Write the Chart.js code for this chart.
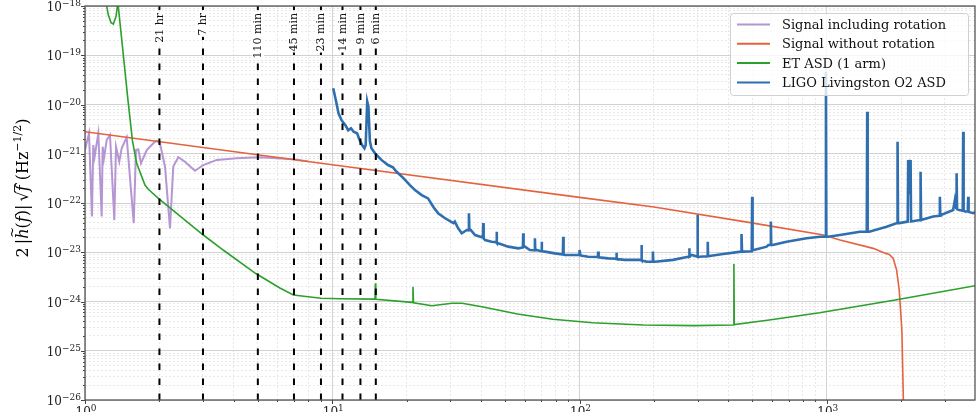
<!DOCTYPE html>
<html>
<head>
<meta charset="utf-8">
<script src="https://cdn.jsdelivr.net/npm/chart.js@4.4.1/dist/chart.umd.min.js"></script>
<style>
  html, body { margin: 0; padding: 0; background: #fff; }
  canvas { display: block; }
</style>
</head>
<body>
<canvas id="c" width="980" height="412"></canvas>
<script>
// signal with rotation (Hz, strain ASD)
const rotFreq = [1.0, 1.038, 1.067, 1.08, 1.094, 1.115, 1.132, 1.168, 1.179, 1.193, 1.224, 1.262, 1.314, 1.335, 1.376, 1.407,
  1.474, 1.574, 1.608, 1.643, 1.684, 1.777, 1.889, 1.95, 2.01, 2.107, 2.207, 2.275, 2.384, 2.537, 2.785, 3.009, 3.41, 4.1, 5.1, 6.95, 8.0];
const rotAsd = [1.19e-21, 2.6e-21, 5.3e-23, 1.5e-21, 8.7e-22, 1.63e-21, 2.6e-21, 5.3e-23, 1.39e-21, 8.1e-22, 1.9e-21, 2.4e-21, 4.5e-23, 1.39e-21, 6.9e-22, 1.29e-21,
  2.16e-21, 3.9e-23, 1.19e-21, 1.23e-21, 6.4e-22, 1.19e-21, 1.63e-21, 1.84e-21, 1.63e-21, 5.46e-22, 3.06e-23, 5.5e-22, 8.5e-22, 6.9e-22, 4.5e-22, 5.9e-22, 7.5e-22, 8.1e-22, 8.5e-22, 7.7e-22, 7.0e-22];

// signal without rotation
const noRotFreq = [1, 10, 100, 200, 490, 970, 1130, 1540, 1700, 1790, 1856, 1915, 1963, 2012, 2040, 2070];
const noRotAsd = [2.8e-21, 6.0e-22, 1.3e-22, 8.3e-23, 4.0e-23, 2.24e-23, 1.77e-23, 1.2e-23, 9.8e-24, 9.0e-24, 7.5e-24, 4.4e-24, 1.7e-24, 2.6e-25, 1.0e-26, 1.0e-28];

// Einstein Telescope, one arm
const etFreq = [1.0, 1.2, 1.224, 1.242, 1.274, 1.302, 1.335, 1.351, 1.357, 1.364, 1.492, 1.556, 1.618, 1.748, 1.803, 1.98, 3.01, 3.62,
  4.89, 6.14, 6.96, 9.0, 10.8, 14.88, 14.94, 15.0, 21.1, 21.2, 21.3, 25.3, 30.5, 33.5, 40.3, 56.1, 77.9, 113, 181, 290, 419.5, 421, 422.5,
  585, 935, 1890, 4000];
const etAsd = [1e-16, 4e-18, 1.0e-18, 6.6e-19, 4.6e-19, 4.3e-19, 6.1e-19, 9.7e-19, 1e-16, 9.7e-19, 1.23e-20, 1.82e-21, 6.4e-22, 2.32e-22, 1.9e-22, 1.24e-22, 2.24e-23, 1.11e-23,
  3.74e-24, 1.88e-24, 1.36e-24, 1.16e-24, 1.14e-24, 1.12e-24, 2.34e-24, 1.11e-24, 9.6e-25, 2.0e-24, 9.4e-25, 8.2e-25, 9.2e-25, 9.2e-25, 7.8e-25, 5.57e-25, 4.35e-25, 3.7e-25, 3.33e-25, 3.23e-25, 3.33e-25, 5.77e-24, 3.4e-25,
  4.2e-25, 5.9e-25, 1.07e-24, 2.1e-24];

// LIGO Livingston O2
const ligoFreq = [10.09, 10.4, 10.6, 10.9, 11.3, 11.6, 11.9, 12.2, 12.6, 12.9, 13.2, 13.5, 13.65, 13.85, 14.0, 14.2, 14.4, 14.9,
  15.8, 16.8, 17.6, 18.2, 19.4, 20.6, 21.6, 23.0, 24.4, 25.6, 26.8, 28.6, 30.9, 31.3, 32.3, 33.4, 35.0,
  35.55, 35.7, 35.85, 36.3, 37.8, 40.65, 40.8, 40.95, 41.5, 44.1, 46.05, 46.2, 46.35, 46.9, 51.5, 56.5,
  59.0, 59.2, 59.4, 60.1, 63.0, 65.8, 66.0, 66.2, 67.1, 70.1, 70.3, 70.5, 72.5, 79.5, 85.6, 85.9, 86.2, 87.3, 98.8,
  99.6, 100.0, 100.8, 108.4, 118.5, 119, 119.5, 130.6, 140.5, 141, 141.5, 152.6, 177.3, 178, 178.7, 187,
  197.3, 198, 198.7, 202, 239, 275, 277.5, 278, 278.5, 284, 299, 300, 301, 305, 329, 330, 331, 335, 381,
  450, 452, 454, 459, 497, 499, 501, 507, 571, 580, 592, 594, 596, 604, 688, 829, 938, 988, 992, 996, 1013,
  1130, 1361, 1451, 1457, 1463, 1484, 1745, 1925, 1933, 1941, 1963, 2125, 2134, 2158, 2182, 2191, 2203,
  2380, 2385, 2395, 2405, 2424, 2693, 2855, 2866, 2877, 2893, 3243, 3296, 3335, 3349, 3363, 3431,
  3547, 3561, 3575, 3618, 3718, 3731, 3744, 3909, 4035];
const ligoAsd = [2.13e-20, 1.06e-20, 6.6e-21, 4.8e-21, 3.8e-21, 3.0e-21, 3.3e-21, 2.8e-21, 2.6e-21, 1.9e-21, 1.5e-21, 1.29e-21, 1.5e-21, 1.14e-20, 9.0e-21, 1.76e-21, 1.29e-21, 1.02e-21,
  7.5e-22, 5.9e-22, 5.3e-22, 4.3e-22, 3.2e-22, 2.3e-22, 1.84e-22, 1.45e-22, 1.24e-22, 8.4e-23, 6.2e-23, 4.9e-23, 3.9e-23, 4.2e-23, 3.06e-23, 2.43e-23, 2.83e-23,
  2.8e-23, 6.2e-23, 2.8e-23, 2.83e-23, 2.24e-23, 2.0e-23, 3.9e-23, 1.9e-23, 1.77e-23, 1.64e-23, 1.6e-23, 2.6e-23, 1.55e-23, 1.52e-23, 1.3e-23, 1.2e-23,
  1.25e-23, 2.43e-23, 1.3e-23, 1.3e-23, 1.11e-23, 1.1e-23, 1.92e-23, 1.1e-23, 1.11e-23, 1.05e-23, 1.64e-23, 1.05e-23, 1.03e-23, 9.5e-24, 9.0e-24, 2.07e-23, 8.9e-24, 8.8e-24, 8.8e-24,
  8.8e-24, 1.11e-23, 8.6e-24, 8.1e-24, 8.0e-24, 1.03e-23, 7.9e-24, 7.5e-24, 7.4e-24, 9.8e-24, 7.3e-24, 7.0e-24, 7.0e-24, 1.4e-23, 6.8e-24, 6.4e-24,
  6.5e-24, 1.03e-23, 6.4e-24, 6.4e-24, 7.0e-24, 8.1e-24, 8.1e-24, 1.2e-23, 8.2e-24, 8.8e-24, 8.2e-24, 5.7e-23, 8.1e-24, 8.1e-24, 8.3e-24, 1.64e-23, 8.3e-24, 8.4e-24, 9.2e-24,
  1.03e-23, 2.35e-23, 1.03e-23, 1.03e-23, 1.05e-23, 1.34e-22, 1.1e-23, 1.11e-23, 1.3e-23, 1.4e-23, 1.4e-23, 4.2e-23, 1.4e-23, 1.4e-23, 1.64e-23, 1.92e-23, 2.07e-23, 2.07e-23, 4.6e-20, 2.1e-23, 2.07e-23,
  2.24e-23, 2.6e-23, 2.6e-23, 7.1e-21, 2.6e-23, 2.6e-23, 3.3e-23, 3.9e-23, 1.76e-21, 3.9e-23, 3.9e-23, 4.2e-23, 7.5e-22, 1.5e-22, 7.5e-22, 4.2e-23, 4.2e-23,
  4.5e-23, 4.5e-23, 4.3e-22, 4.5e-23, 4.5e-23, 5.3e-23, 5.5e-23, 1.34e-22, 5.6e-23, 5.7e-23, 7.2e-23, 1.15e-22, 8.0e-23, 4.0e-22, 7.5e-23, 7.2e-23,
  7.0e-23, 2.8e-21, 7.0e-23, 6.7e-23, 6.7e-23, 1.34e-22, 6.6e-23, 6.2e-23, 6.7e-23];

// rotation periods marked with dashed lines
const markFreq = [2, 3, 5, 7, 9, 11, 13, 15];
const markLabels = ['21 hr', '7 hr', '110 min', '45 min', '23 min', '14 min', '9 min', '6 min'];

const seriesNames = ['Signal including rotation', 'Signal without rotation', 'ET ASD (1 arm)', 'LIGO Livingston O2 ASD'];
const seriesColors = ['#b596d3', '#e5623f', '#2ca02c', '#2f6fb0'];

const xTickExp = [0, 1, 2, 3];
const yTickExp = [-26, -25, -24, -23, -22, -21, -20, -19, -18];
const xMin = 1, xMax = 3975, yMin = 1e-26, yMax = 1e-18;

const SERIF = '"DejaVu Serif", "Liberation Serif", serif';

function pts(fs, vs) {
  return fs.map((f, i) => ({ x: f, y: vs[i] }));
}

function logTicks(exps, max) {
  const out = [];
  exps.forEach(e => {
    for (let m = 1; m <= 9; m++) {
      const v = Number(m + 'e' + e);
      if (v <= max * 1.0000001) out.push({ value: v, major: m === 1 });
    }
  });
  return out;
}

const gridOpts = {
  drawTicks: false,
  color: c => (c.tick && c.tick.major) ? '#d2d2d2' : '#e2e2e2',
  lineWidth: c => (c.tick && c.tick.major) ? 1 : 0.8
};
const borderOpts = {
  display: false,
  dash: c => (c.tick && c.tick.major) ? [] : [2, 2]
};

const datasets = [
  { data: pts(rotFreq, rotAsd), borderColor: seriesColors[0], borderWidth: 2, order: 5 },
  { data: pts(noRotFreq, noRotAsd), borderColor: seriesColors[1], borderWidth: 1.6, order: 4 },
  { data: pts(etFreq, etAsd), borderColor: seriesColors[2], borderWidth: 1.6, order: 3 },
  { data: pts(ligoFreq, ligoAsd), borderColor: seriesColors[3], borderWidth: 2.6, order: 2 }
];
datasets.forEach((d, i) => { d.label = seriesNames[i]; });

markFreq.forEach(f => {
  datasets.push({
    data: [{ x: f, y: yMin }, { x: f, y: yMax }],
    borderColor: '#000', borderWidth: 2, borderDash: [6.5, 8.5], order: 1
  });
});

function supLabel(ctx, base, sup, x, y, align) {
  ctx.font = '12px ' + SERIF;
  const w1 = ctx.measureText(base).width;
  ctx.font = '9px ' + SERIF;
  const w2 = ctx.measureText(sup).width;
  let x0 = align === 'right' ? x - w1 - w2 : x - (w1 + w2) / 2;
  ctx.textAlign = 'left';
  ctx.textBaseline = 'alphabetic';
  ctx.font = '12px ' + SERIF;
  ctx.fillText(base, x0, y);
  ctx.font = '9px ' + SERIF;
  ctx.fillText(sup, x0 + w1, y - 5);
}

function drawYTitle(ctx, cx, cy) {
  const big = '16px ' + SERIF, it = 'italic 16px ' + SERIF, small = '11px ' + SERIF;
  const parts = [
    ['2', big, 0], ['\u2009', big, 0], ['|', big, 0], ['h', it, 0], ['(', big, 0], ['f', it, 0], [')', big, 0], ['|', big, 0],
    ['\u2009', big, 0], ['\u221a', big, 0], ['f', it, 0], [' (Hz', big, 0], ['\u22121/2', small, -7], [')', big, 0]
  ];
  ctx.save();
  let total = 0;
  parts.forEach(p => { ctx.font = p[1]; p.push(ctx.measureText(p[0]).width); total += p[3]; });
  ctx.translate(cx, cy);
  ctx.rotate(-Math.PI / 2);
  ctx.fillStyle = '#000';
  ctx.textBaseline = 'alphabetic';
  ctx.textAlign = 'left';
  let x = -total / 2;
  parts.forEach((p, i) => {
    ctx.font = p[1];
    ctx.fillText(p[0], x, p[2]);
    if (i === 3) {
      // tilde over h
      ctx.font = '13px ' + SERIF;
      ctx.fillText('~', x + 1, -12);
    }
    if (i === 10) {
      // bar of the square root
      ctx.beginPath();
      ctx.lineWidth = 0.9;
      ctx.strokeStyle = '#000';
      ctx.moveTo(x - 1, -13.5);
      ctx.lineTo(x + p[3] + 1, -13.5);
      ctx.stroke();
    }
    x += p[3];
  });
  ctx.restore();
}

const decor = {
  id: 'decor',
  afterDatasetsDraw(chart) {
    const { ctx, chartArea: a, scales } = chart;
    ctx.save();
    // period labels over the dashed lines
    ctx.font = '11px ' + SERIF;
    markFreq.forEach((f, i) => {
      const x = scales.x.getPixelForValue(f);
      const w = ctx.measureText(markLabels[i]).width;
      ctx.save();
      ctx.translate(x, a.top + 7);
      ctx.rotate(-Math.PI / 2);
      ctx.fillStyle = '#fff';
      ctx.fillRect(-w - 1, -6, w + 2, 12);
      ctx.fillStyle = '#111';
      ctx.textAlign = 'right';
      ctx.textBaseline = 'middle';
      ctx.fillText(markLabels[i], 0, 0.5);
      ctx.restore();
    });
    // ticks
    ctx.strokeStyle = '#444';
    ctx.lineWidth = 1;
    scales.y.ticks.forEach(t => {
      const y = Math.round(scales.y.getPixelForValue(t.value)) + 0.5;
      const len = t.major ? 4 : 2;
      ctx.beginPath(); ctx.moveTo(a.left - len, y); ctx.lineTo(a.left, y); ctx.stroke();
    });
    scales.x.ticks.forEach(t => {
      const x = Math.round(scales.x.getPixelForValue(t.value)) + 0.5;
      const len = t.major ? 4 : 2;
      ctx.beginPath(); ctx.moveTo(x, a.bottom); ctx.lineTo(x, a.bottom + len); ctx.stroke();
    });
    // frame
    ctx.strokeStyle = '#555';
    ctx.lineWidth = 1.3;
    ctx.strokeRect(a.left, a.top, a.right - a.left, a.bottom - a.top);
    ctx.restore();
  },
  afterDraw(chart) {
    const { ctx, chartArea: a, scales } = chart;
    ctx.save();
    ctx.fillStyle = '#222';
    // tick labels
    yTickExp.forEach(e => {
      const y = scales.y.getPixelForValue(Number('1e' + e));
      supLabel(ctx, '10', '\u2212' + Math.abs(e), a.left - 4, y + 5, 'right');
    });
    xTickExp.forEach(e => {
      const x = scales.x.getPixelForValue(Number('1e' + e));
      supLabel(ctx, '10', String(e), x + 1, a.bottom + 15.5, 'center');
    });
    // axis title
    drawYTitle(ctx, 28, 188);
    // legend
    const lx = 730, ly = 13, lw = 238, lh = 82;
    ctx.beginPath();
    ctx.roundRect(lx + 0.5, ly + 0.5, lw, lh, 3);
    ctx.fillStyle = 'rgba(255,255,255,0.8)';
    ctx.fill();
    ctx.strokeStyle = '#d0d0d0';
    ctx.lineWidth = 1;
    ctx.stroke();
    ctx.font = '13px ' + SERIF;
    ctx.textAlign = 'left';
    ctx.textBaseline = 'alphabetic';
    for (let i = 0; i < 4; i++) {
      const ds = chart.data.datasets[i];
      const ry = 24.5 + i * 19.3;
      ctx.strokeStyle = ds.borderColor;
      ctx.lineWidth = 2;
      ctx.beginPath(); ctx.moveTo(737, ry); ctx.lineTo(770, ry); ctx.stroke();
      ctx.fillStyle = '#111';
      ctx.fillText(ds.label, 782, ry + 4.5);
    }
    ctx.restore();
  }
};

new Chart(document.getElementById('c'), {
  type: 'line',
  data: { datasets: datasets },
  options: {
    responsive: false,
    animation: false,
    devicePixelRatio: 1,
    layout: { padding: { left: 85, right: 5, top: 6, bottom: 12 } },
    plugins: { legend: { display: false }, tooltip: { enabled: false } },
    elements: { point: { radius: 0 }, line: { tension: 0, fill: false } },
    scales: {
      x: {
        type: 'logarithmic', min: xMin, max: xMax,
        afterBuildTicks: s => { s.ticks = logTicks(xTickExp, xMax); },
        ticks: { display: false },
        grid: gridOpts, border: borderOpts
      },
      y: {
        type: 'logarithmic', min: yMin, max: yMax,
        afterBuildTicks: s => { s.ticks = logTicks(yTickExp, yMax); },
        ticks: { display: false },
        grid: gridOpts, border: borderOpts
      }
    }
  },
  plugins: [decor]
});
</script>
</body>
</html>
